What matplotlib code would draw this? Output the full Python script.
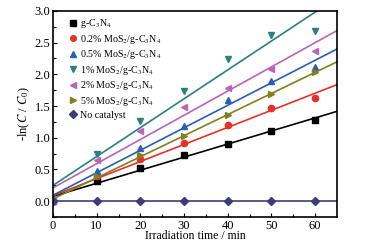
import numpy as np
import matplotlib
matplotlib.use('Agg')
import matplotlib.pyplot as plt

plt.rcParams['font.family'] = 'Liberation Serif'
plt.rcParams['mathtext.fontset'] = 'stix'

# irradiation time (min)
t = [0, 10, 20, 30, 40, 50, 60]

labels = ['g-C$_3$N$_4$', '0.2% MoS$_2$/g-C$_3$N$_4$', '0.5% MoS$_2$/g-C$_3$N$_4$',
          '1% MoS$_2$/g-C$_3$N$_4$', '2% MoS$_2$/g-C$_3$N$_4$', '5% MoS$_2$/g-C$_3$N$_4$',
          'No catalyst']

gcn = [0, 0.32, 0.53, 0.73, 0.90, 1.10, 1.28]
mos_02 = [0, 0.40, 0.66, 0.91, 1.20, 1.47, 1.62]
mos_05 = [0, 0.48, 0.84, 1.18, 1.59, 1.89, 2.12]
mos_1 = [0, 0.75, 1.27, 1.74, 2.24, 2.62, 2.68]
mos_2 = [0, 0.65, 1.10, 1.48, 1.79, 2.09, 2.37]
mos_5 = [0, 0.40, 0.72, 1.03, 1.36, 1.69, 2.03]
no_cat = [0, 0, 0, 0, 0, 0, 0]

series = [gcn, mos_02, mos_05, mos_1, mos_2, mos_5, no_cat]
colors = ['black', '#e8302a', '#2a5cb8', '#2a8080', '#b864b8', '#808020', '#3c3c78']
markers = ['s', 'o', '^', 'v', '<', '>', 'D']

fig = plt.figure(figsize=(3.69, 2.43), dpi=100)
ax = fig.add_axes([0.1436, 0.107, 0.913 - 0.1436, 0.955 - 0.107])

# linear fits drawn across the full x range
xfit = np.array([0, 65])
for y, c, m, lab in zip(series, colors, markers, labels):
    k, b = np.polyfit(t, y, 1)
    ax.plot(xfit, k * xfit + b, color=c, lw=1.2)
    ax.plot(t, y, ls='none', marker=m, color=c, ms=4.5, label=lab)

ax.set_xlim(0, 65)
ax.set_ylim(-0.25, 3.0)
ax.set_xticks(range(0, 61, 10))
ax.set_xticks(range(5, 65, 10), minor=True)
ax.set_yticks(np.arange(0, 3.01, 0.5))
ax.set_yticks(np.arange(-0.25, 3.0, 0.5), minor=True)
ax.yaxis.set_major_formatter(matplotlib.ticker.FormatStrFormatter('%.1f'))
ax.tick_params(direction='in', labelsize=9, length=3, width=0.8, pad=2)
ax.tick_params(which='minor', direction='in', length=2, width=0.8)
for s in ax.spines.values():
    s.set_linewidth(1.2)

ax.set_xlabel('Irradiation time / min', fontsize=8.5, labelpad=-1)
ax.set_ylabel(r'-ln($C$ / $C_0$)', fontsize=9, labelpad=2)

ax.legend(loc='upper left', bbox_to_anchor=(0.03, 1.0), frameon=False, fontsize=7.2,
          handletextpad=0.2, handlelength=1.0, labelspacing=0.25, borderaxespad=0.35,
          borderpad=0.3, markerscale=0.9, handleheight=0.9)

fig.savefig('out.png', dpi=100)
